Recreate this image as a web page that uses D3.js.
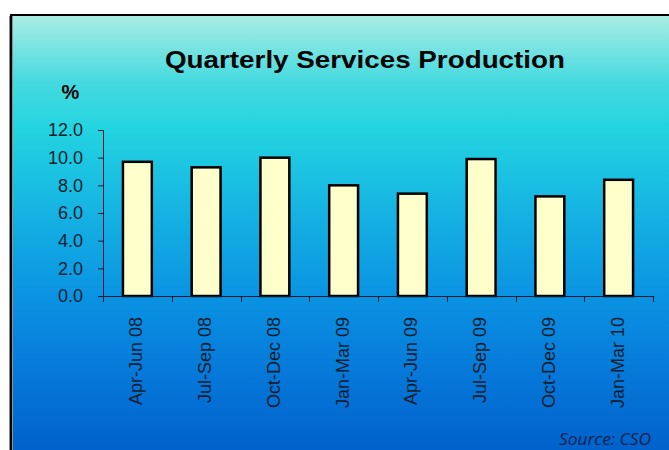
<!DOCTYPE html>
<html>
<head>
<meta charset="utf-8">
<script src="https://cdn.jsdelivr.net/npm/d3@7"></script>
<style>
  html, body { margin: 0; padding: 0; background: #fff; }
  svg { display: block; }
</style>
</head>
<body>
<div id="chart"></div>
<script>
// Quarterly services production, % growth
const quarters = ['Apr-Jun 08', 'Jul-Sep 08', 'Oct-Dec 08', 'Jan-Mar 09',
  'Apr-Jun 09', 'Jul-Sep 09', 'Oct-Dec 09', 'Jan-Mar 10'];
const growth = [9.7, 9.3, 10.0, 8.0, 7.4, 9.9, 7.2, 8.4];
const yTicks = [0, 2, 4, 6, 8, 10, 12];

const width = 669;
const height = 450;
const margin = { top: 130, right: 16, bottom: 154, left: 103 };
const innerW = width - margin.left - margin.right;
const innerH = height - margin.top - margin.bottom;

const svg = d3.select('#chart')
  .append('svg')
  .attr('width', width)
  .attr('height', height);

// background gradient panel
const grad = svg.append('defs')
  .append('linearGradient')
  .attr('id', 'bg')
  .attr('x1', 0).attr('y1', 0)
  .attr('x2', 0).attr('y2', 1);

[
  [0, '#a8ede4'],
  [0.15, '#46dadf'],
  [0.26, '#23d4e0'],
  [0.42, '#17b8e2'],
  [0.65, '#0a92e2'],
  [0.84, '#0676d8'],
  [1, '#0062cc'],
].forEach(([o, c]) => {
  grad.append('stop').attr('offset', o).attr('stop-color', c);
});

svg.append('rect')
  .attr('x', 12)
  .attr('y', 16)
  .attr('width', width - 12)
  .attr('height', height - 16)
  .attr('fill', 'url(#bg)');

// frame edges
svg.append('rect')
  .attr('x', 10).attr('y', 14)
  .attr('width', width - 10).attr('height', 2)
  .attr('fill', '#000');
svg.append('rect')
  .attr('x', 10).attr('y', 14)
  .attr('width', 2).attr('height', height - 14)
  .attr('fill', '#000');
svg.append('rect')
  .attr('x', 9).attr('y', 16)
  .attr('width', 1).attr('height', height - 16)
  .attr('fill', '#8a8a8a');
svg.append('rect')
  .attr('x', 12).attr('y', 16)
  .attr('width', 1).attr('height', height - 16)
  .attr('fill', '#7a9a9a');

const chart = svg.append('g')
  .attr('transform', `translate(${margin.left},${margin.top})`);

const x = d3.scaleBand()
  .domain(quarters)
  .range([0, innerW])
  .paddingInner(0.58)
  .paddingOuter(0.29);

const y = d3.scaleLinear()
  .domain([0, 12])
  .range([innerH, 0]);

// bars
chart.selectAll('.bar')
  .data(growth)
  .enter()
  .append('rect')
  .attr('class', 'bar')
  .attr('x', (d, i) => x(quarters[i]))
  .attr('y', d => y(d))
  .attr('width', x.bandwidth())
  .attr('height', d => innerH - y(d))
  .attr('fill', '#ffffcc')
  .attr('stroke', '#000')
  .attr('stroke-width', 2.5);

// y axis
const yAxis = chart.append('g')
  .call(d3.axisLeft(y).tickValues(yTicks).tickSize(5).tickPadding(15)
    .tickFormat(d3.format('.1f')));
yAxis.select('.domain').attr('stroke', '#0a1a2a');
yAxis.selectAll('line').attr('stroke', '#0a1a2a');
yAxis.selectAll('text')
  .attr('fill', '#0a1e30')
  .style('font-family', 'Liberation Sans, Arial, sans-serif')
  .style('font-size', '18px');

// x axis: ticks at category boundaries
const step = innerW / quarters.length;
const xAxis = chart.append('g')
  .attr('transform', `translate(0,${innerH})`);
xAxis.append('line')
  .attr('x1', 0).attr('x2', innerW)
  .attr('y1', 0.5).attr('y2', 0.5)
  .attr('stroke', '#0a1a2a');
xAxis.selectAll('.xtick')
  .data(d3.range(quarters.length + 1))
  .enter()
  .append('line')
  .attr('class', 'xtick')
  .attr('x1', i => Math.round(i * step) + 0.5)
  .attr('x2', i => Math.round(i * step) + 0.5)
  .attr('y1', 0)
  .attr('y2', 6)
  .attr('stroke', '#0a1a2a');

xAxis.selectAll('.xlabel')
  .data(quarters)
  .enter()
  .append('text')
  .attr('class', 'xlabel')
  .attr('transform', d =>
    `translate(${x(d) + x.bandwidth() / 2 + 5},${21}) rotate(-90)`)
  .attr('text-anchor', 'end')
  .attr('fill', '#0a1e30')
  .style('font-family', 'Liberation Sans, Arial, sans-serif')
  .style('font-size', '18px')
  .text(d => d);

// title and labels
svg.append('text')
  .attr('x', 365)
  .attr('y', 68)
  .attr('text-anchor', 'middle')
  .attr('textLength', 400)
  .attr('lengthAdjust', 'spacingAndGlyphs')
  .attr('fill', '#050505')
  .style('font-family', 'Liberation Sans, Arial, sans-serif')
  .style('font-weight', 'bold')
  .style('font-size', '24px')
  .text('Quarterly Services Production');

svg.append('text')
  .attr('x', 70.5)
  .attr('y', 99)
  .attr('text-anchor', 'middle')
  .attr('fill', '#050505')
  .style('font-family', 'Liberation Sans, Arial, sans-serif')
  .style('font-weight', 'bold')
  .style('font-size', '20px')
  .text('%');

svg.append('text')
  .attr('x', 651)
  .attr('y', 445)
  .attr('text-anchor', 'end')
  .attr('textLength', 92)
  .attr('lengthAdjust', 'spacingAndGlyphs')
  .attr('fill', '#0a1f4a')
  .style('font-family', 'Open Sans, sans-serif')
  .style('font-style', 'italic')
  .style('font-size', '16px')
  .text('Source: CSO');
</script>
</body>
</html>
